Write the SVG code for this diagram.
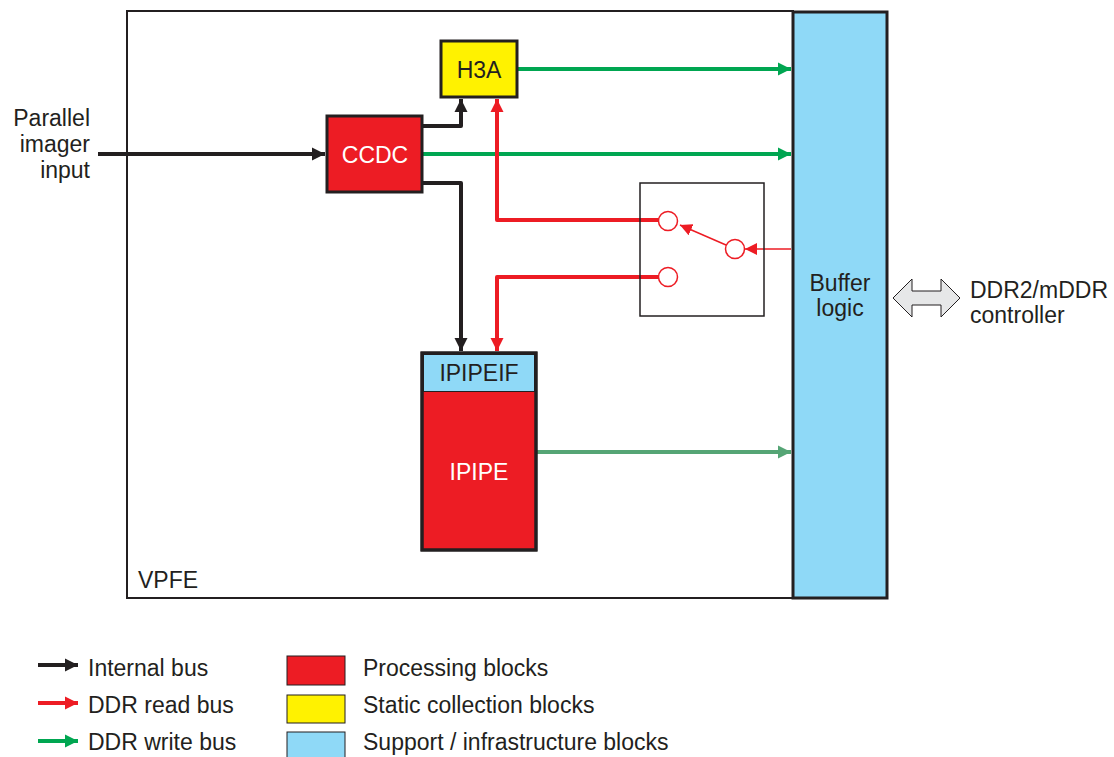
<svg xmlns="http://www.w3.org/2000/svg" width="1114" height="757" viewBox="0 0 1114 757">
<style>
text{font-family:"Liberation Sans",Arial,sans-serif;font-size:23px;fill:#231f20}
.w{fill:#fff}
.blk{fill:none;stroke:#231f20;stroke-width:4;stroke-linejoin:round}
.red{fill:none;stroke:#ed1c24;stroke-width:4;stroke-linejoin:round}
.grn{fill:none;stroke:#00a651;stroke-width:4}
.box{stroke:#231f20;stroke-width:3}
</style>
<defs>
<marker id="ab" viewBox="0 0 10 10" refX="10" refY="5" markerWidth="3.3" markerHeight="3.3" orient="auto" markerUnits="strokeWidth"><path d="M0,0L10,5L0,10z" fill="#231f20"/></marker>
<marker id="ar" viewBox="0 0 10 10" refX="10" refY="5" markerWidth="3.3" markerHeight="3.3" orient="auto" markerUnits="strokeWidth"><path d="M0,0L10,5L0,10z" fill="#ed1c24"/></marker>
<marker id="ag" viewBox="0 0 10 10" refX="10" refY="5" markerWidth="3.3" markerHeight="3.3" orient="auto" markerUnits="strokeWidth"><path d="M0,0L10,5L0,10z" fill="#00a651"/></marker>
<marker id="ag2" viewBox="0 0 10 10" refX="10" refY="5" markerWidth="3.3" markerHeight="3.3" orient="auto" markerUnits="strokeWidth"><path d="M0,0L10,5L0,10z" fill="#55a575"/></marker>
<marker id="art" viewBox="0 0 10 10" refX="10" refY="5" markerWidth="8" markerHeight="8" orient="auto" markerUnits="strokeWidth"><path d="M0,0L10,5L0,10z" fill="#ed1c24"/></marker>
</defs>
<g id="vpfe"><rect x="127" y="11" width="666" height="587" fill="#fff" stroke="#231f20" stroke-width="2"/><text x="138" y="588">VPFE</text></g>
<g id="connectors">
<path class="blk" d="M98,154H325" marker-end="url(#ab)"/>
<path class="blk" d="M422,126H461V99" marker-end="url(#ab)"/>
<path class="blk" d="M422,183H461V351" marker-end="url(#ab)"/>
<path class="grn" d="M517,69H791" marker-end="url(#ag)"/>
<path class="grn" d="M422,154H791" marker-end="url(#ag)"/>
<path class="red" d="M659,220H497V99" marker-end="url(#ar)"/>
<path class="red" d="M659,277H497V351" marker-end="url(#ar)"/>
<path d="M536,452H791" fill="none" stroke="#55a575" stroke-width="4" marker-end="url(#ag2)"/>
<path d="M791,249H745" fill="none" stroke="#ed1c24" stroke-width="1.5" marker-end="url(#art)"/>
<path d="M726,245L680,225" fill="none" stroke="#ed1c24" stroke-width="1.5" marker-end="url(#art)"/>
</g>
<g id="switch">
<rect x="640" y="183" width="124" height="133" fill="none" stroke="#231f20" stroke-width="1.5"/>
<circle cx="668" cy="221" r="9.5" fill="#fff" stroke="#ed1c24" stroke-width="1.5"/>
<circle cx="668" cy="277" r="9.5" fill="#fff" stroke="#ed1c24" stroke-width="1.5"/>
<circle cx="735" cy="249" r="9.5" fill="#fff" stroke="#ed1c24" stroke-width="1.5"/>
</g>
<g id="h3a"><rect class="box" x="441" y="41" width="76" height="56" fill="#fff200"/><text x="479" y="78" text-anchor="middle">H3A</text></g>
<g id="ccdc"><rect class="box" x="327" y="116" width="95" height="76" fill="#ed1c24"/><text class="w" x="375" y="163" text-anchor="middle">CCDC</text></g>
<g id="ipipe">
<rect class="box" x="422" y="353" width="114" height="197" fill="#ed1c24"/>
<rect x="423.5" y="354.5" width="111" height="37" fill="#8fd9f7" stroke="#231f20" stroke-width="1"/>
<rect class="box" x="422" y="353" width="114" height="197" fill="none"/>
<text x="479" y="381" text-anchor="middle">IPIPEIF</text>
<text class="w" x="479" y="480" text-anchor="middle">IPIPE</text>
</g>
<g id="buffer"><rect class="box" x="793" y="12" width="94" height="586" fill="#8fd9f7"/><text x="840" y="291" text-anchor="middle">Buffer</text><text x="840" y="316" text-anchor="middle">logic</text></g>
<g id="ddr">
<path d="M893,298L912,279V291H941V279L960,298L941,317V305H912V317Z" fill="#e6e7e8" stroke="#231f20" stroke-width="1"/>
<text x="970" y="298">DDR2/mDDR</text><text x="970" y="323">controller</text>
</g>
<g id="input-label"><text x="90" y="126" text-anchor="end">Parallel</text><text x="90" y="152" text-anchor="end">imager</text><text x="90" y="178" text-anchor="end">input</text></g>
<g id="legend">
<path class="blk" d="M38,665H78" marker-end="url(#ab)"/>
<path class="red" d="M38,703H78" marker-end="url(#ar)"/>
<path class="grn" d="M38,741H78" marker-end="url(#ag)"/>
<text x="88" y="676">Internal bus</text>
<text x="88" y="713">DDR read bus</text>
<text x="88" y="750">DDR write bus</text>
<rect x="287" y="656" width="58" height="29" fill="#ed1c24" stroke="#231f20" stroke-width="1"/>
<rect x="287" y="695" width="58" height="28" fill="#fff200" stroke="#231f20" stroke-width="1"/>
<rect x="287" y="732" width="58" height="28" fill="#8fd9f7" stroke="#231f20" stroke-width="1"/>
<text x="363" y="676">Processing blocks</text>
<text x="363" y="713">Static collection blocks</text>
<text x="363" y="750">Support / infrastructure blocks</text>
</g>
</svg>
